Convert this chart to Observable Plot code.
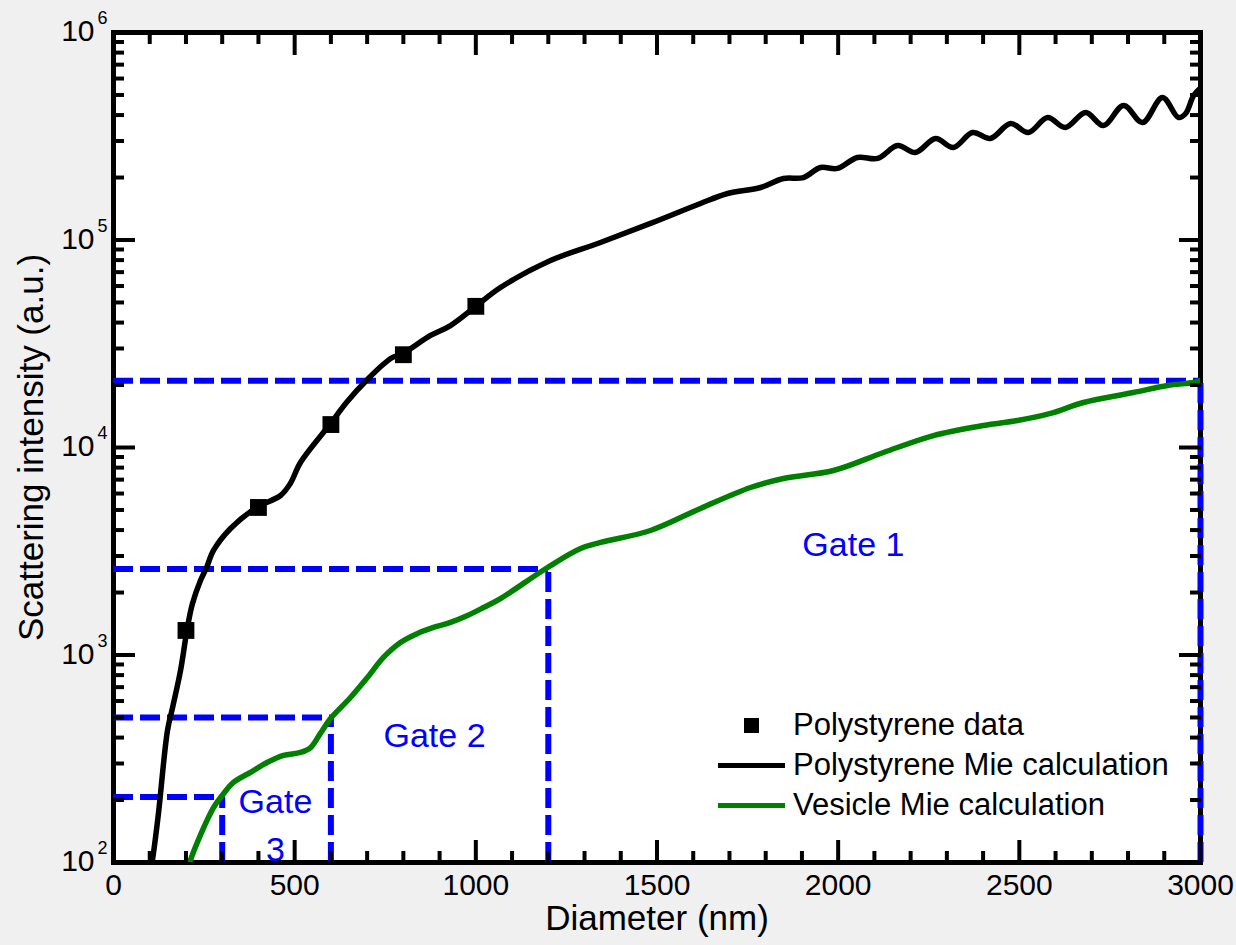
<!DOCTYPE html>
<html><head><meta charset="utf-8">
<script src="https://cdn.jsdelivr.net/npm/d3@7"></script>
<script src="https://cdn.jsdelivr.net/npm/@observablehq/plot@0.6"></script>
<style>
body{margin:0;background:#f0f0f0;font-family:"Liberation Sans",Arial,sans-serif;}
#wrap{position:relative;width:1236px;height:945px;}
.row{position:absolute;left:718px;height:40px;display:flex;align-items:center;font-size:31px;color:#000;white-space:nowrap;}
.sym{width:67px;height:40px;display:flex;align-items:center;justify-content:center;margin-right:8px;}
.sq{width:15px;height:15px;background:#000;}
.ln{width:67px;height:5px;}
</style></head>
<body><div id="wrap"><div id="chart"></div><div id="legend"></div></div>
<script>
// Polystyrene measured data
const polyDiam = [200, 400, 600, 800, 1000];
const polyInt = [1313, 5140, 12900, 28000, 47900];
// Polystyrene Mie calculation
const mieDiam = [100,110,124,149,163,185,204,218,240,257,276,323,395,461,488,516,599,643,698,765,800,875,930,1000,1068,1206,1344,1482,1620,1695,1786,1849,1904,1951,1998,2053,2109,2164,2213,2269,2318,2371,2420,2476,2525,2578,2627,2683,2732,2788,2840,2895,2939,2959,2981,3000];
const mieInt = [85,110,172,433,558,842,1357,1771,2286,2641,3190,4070,5140,5870,6710,8470,13050,16480,21040,26850,28500,34670,38700,47900,59000,79600,97300,120200,150000,167500,179100,197800,200000,223600,221300,249900,247200,285300,264100,308400,279200,329700,308400,364000,329700,389300,348500,411500,356300,444700,368300,486000,389300,407000,497000,540000];
// Vesicle Mie calculation
const vesDiam = [204,212,276,304,331,378,425,469,516,544,571,599,654,701,745,792,839,883,930,977,1021,1068,1198,1289,1344,1482,1620,1758,1849,1987,2125,2263,2401,2495,2586,2677,2815,2909,2981,3000];
const vesInt = [88,102,184,215,243,272,304,328,339,358,419,494,624,780,973,1148,1270,1358,1436,1550,1693,1871,2641,3260,3487,3981,5085,6415,7092,7748,9460,11420,12770,13490,14590,16480,18400,19900,20560,21000];
// Gate boundaries
const gateDiam = [3000, 1200, 600, 300];
const gateInt = [21000, 2600, 500, 207];
// Gate labels
const gateLabelText = ["Gate 1", "Gate 2", "Gate\n3"];
const gateLabelDiam = [2042, 886, 447];
const gateLabelInt = [3565, 428, 158];
// Ticks
const xMajor = [0, 500, 1000, 1500, 2000, 2500, 3000];
const xMinor = d3.range(0, 3001, 100).filter(v => v % 500 !== 0);
const yMajor = [1e2, 1e3, 1e4, 1e5, 1e6];
const yExp = ["2", "3", "4", "5", "6"];
const yMinor = [1e2, 1e3, 1e4, 1e5].flatMap(d => [2,3,4,5,6,7,8,9].map(m => m * d));
// Legend
const legendItems = [
  {label: "Polystyrene data", kind: "square", color: "#000000"},
  {label: "Polystyrene Mie calculation", kind: "line", color: "#000000"},
  {label: "Vesicle Mie calculation", kind: "line", color: "#008000"}
];

const poly = polyDiam.map((d, i) => ({d, v: polyInt[i]}));
const mie = mieDiam.map((d, i) => ({d, v: mieInt[i]}));
const ves = vesDiam.map((d, i) => ({d, v: vesInt[i]}));
const gates = gateDiam.map((d, i) => ({d, v: gateInt[i]}));
const gateLabels = gateLabelText.map((t, i) => ({t, d: gateLabelDiam[i], v: gateLabelInt[i]}));
const decades = yMajor.map((v, i) => ({v, e: yExp[i]}));

const blue = "#0000ff";
const tickOpts = {strokeWidth: 4, fill: "none", label: null};

const chart = Plot.plot({
  width: 1236, height: 945,
  marginLeft: 113, marginRight: 36, marginTop: 32, marginBottom: 83,
  x: {domain: [0, 3000]},
  y: {type: "log", domain: [100, 1e6]},
  style: {background: "transparent", fontFamily: '"Liberation Sans", Arial, sans-serif', color: "black", overflow: "visible"},
  marks: [
    Plot.frame({fill: "white"}),
    Plot.frame({stroke: "black", strokeWidth: 5}),
    Plot.ruleY(gates, {y: "v", x1: 0, x2: "d", stroke: blue, strokeWidth: 6, strokeDasharray: "20,7"}),
    Plot.ruleX(gates, {x: "d", y1: 100, y2: "v", stroke: blue, strokeWidth: 6, strokeDasharray: "20,7"}),
    Plot.line(mie, {x: "d", y: "v", stroke: "black", strokeWidth: 5.5, curve: "catmull-rom", clip: true}),
    Plot.line(ves, {x: "d", y: "v", stroke: "#008000", strokeWidth: 5.5, curve: "catmull-rom", clip: true}),
    Plot.dot(poly, {x: "d", y: "v", symbol: "square", r: 9.5, fill: "black", stroke: null}),
    Plot.text(gateLabels, {x: "d", y: "v", text: "t", fill: blue, fontSize: 34, lineHeight: 1.41}),
    Plot.axisX(xMajor, {anchor: "bottom", tickSize: -22, ...tickOpts}),
    Plot.axisX(xMinor, {anchor: "bottom", tickSize: -11, ...tickOpts}),
    Plot.axisX(xMajor, {anchor: "top", tickSize: -22, ...tickOpts}),
    Plot.axisX(xMinor, {anchor: "top", tickSize: -11, ...tickOpts}),
    Plot.axisY(yMajor, {anchor: "left", tickSize: -22, ...tickOpts}),
    Plot.axisY(yMinor, {anchor: "left", tickSize: -11, ...tickOpts}),
    Plot.axisY(yMajor, {anchor: "right", tickSize: -22, ...tickOpts}),
    Plot.axisY(yMinor, {anchor: "right", tickSize: -11, ...tickOpts}),
    Plot.axisX(xMajor, {anchor: "bottom", tickSize: 0, tickPadding: 11, fontSize: 30, label: null, tickFormat: d => `${d}`}),
    Plot.text(decades, {y: "v", frameAnchor: "left", text: () => "10", textAnchor: "end", dx: -19, dy: -1, fontSize: 30}),
    Plot.text(decades, {y: "v", frameAnchor: "left", text: "e", textAnchor: "start", dx: -16, dy: -14, fontSize: 18}),
    Plot.text(["Diameter (nm)"], {frameAnchor: "bottom", text: d => d, lineAnchor: "middle", textAnchor: "middle", dy: 56, fontSize: 35}),
    Plot.text(["Scattering intensity (a.u.)"], {frameAnchor: "left", text: d => d, rotate: -90, textAnchor: "middle", lineAnchor: "middle", dx: -82, fontSize: 35})
  ]
});
document.getElementById("chart").appendChild(chart);

const legend = document.getElementById("legend");
legendItems.forEach((item, i) => {
  const row = document.createElement("div");
  row.className = "row";
  row.style.top = (705 + i * 40) + "px";
  const sym = document.createElement("div");
  sym.className = "sym";
  const mark = document.createElement("div");
  mark.className = item.kind === "square" ? "sq" : "ln";
  mark.style.background = item.color;
  sym.appendChild(mark);
  const txt = document.createElement("span");
  txt.textContent = item.label;
  row.appendChild(sym);
  row.appendChild(txt);
  legend.appendChild(row);
});
</script>
</body></html>
